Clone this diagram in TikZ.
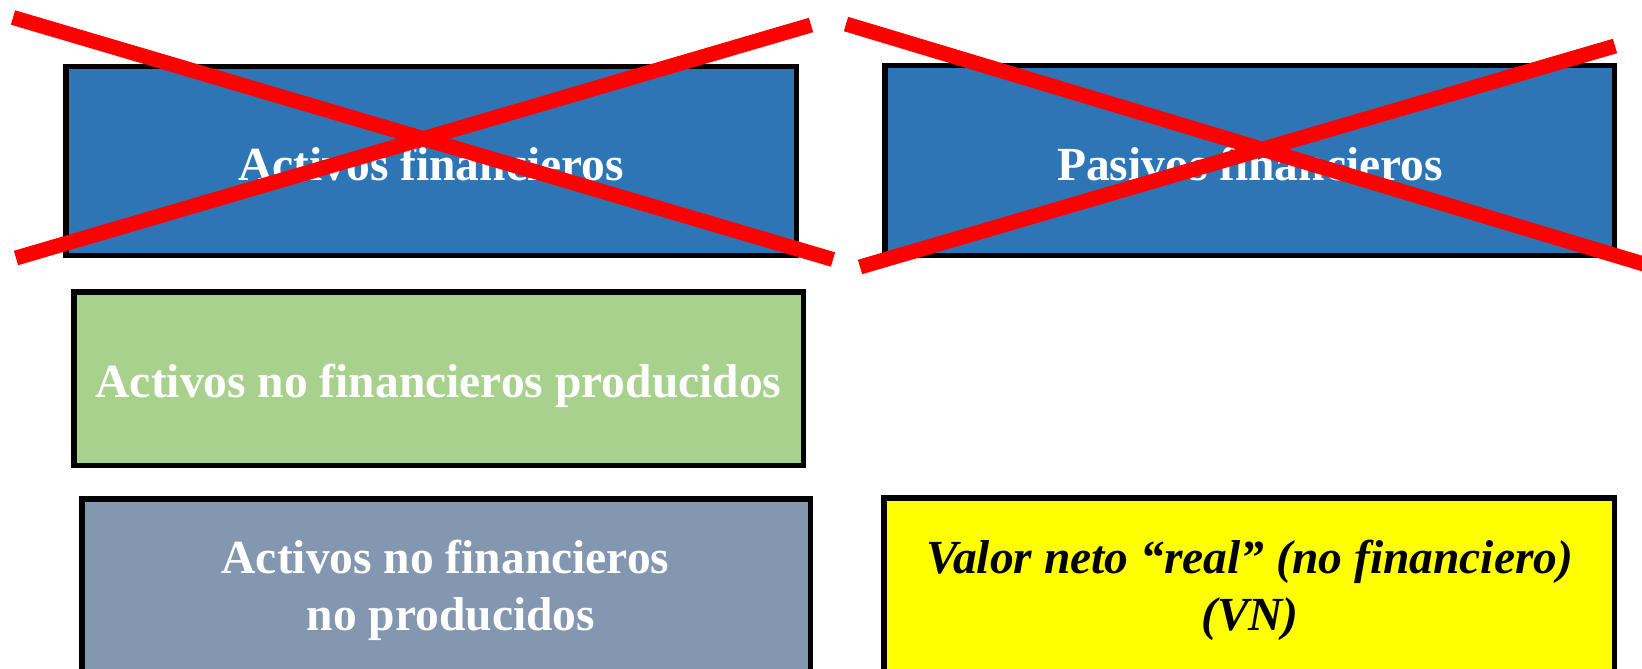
\documentclass[tikz,border=0pt]{standalone}
\usepackage{fontspec}
\setmainfont{Liberation Serif}
\usetikzlibrary{calc}
\definecolor{boxblue}{HTML}{2E75B6}
\definecolor{boxgreen}{HTML}{A9D18E}
\definecolor{boxgrey}{HTML}{8497B0}
\definecolor{boxyellow}{HTML}{FFFF00}
\definecolor{xred}{HTML}{FF0000}
\begin{document}
\begin{tikzpicture}[x=1pt,y=-1pt,
  panel/.style={draw=black, line width=5.5pt, rectangle, inner sep=0pt},
  wtxt/.style={text=white, font=\fontsize{47.5}{57}\selectfont\bfseries, inner sep=0pt, anchor=base},
  ktxt/.style={text=black, font=\fontsize{47.5}{57}\selectfont\bfseries\itshape, inner sep=0pt, anchor=base},
  cross/.style={draw=xred, line width=15pt, line cap=butt}]
\useasboundingbox (0,0) rectangle (1642,669);
\clip (0,0) rectangle (1642,669);
\fill[white] (0,0) rectangle (1642,669);
% boxes
\node[panel, fill=boxblue, minimum width=730.5pt, minimum height=188.5pt] (A) at (431,161) {};
\node[panel, fill=boxblue, minimum width=729.5pt, minimum height=189.5pt] (P) at (1249.5,160.5) {};
\node[panel, fill=boxgreen, minimum width=729.5pt, minimum height=173.5pt] (G) at (438.5,378.5) {};
\node[panel, fill=boxgrey, minimum width=728.5pt, minimum height=183.5pt] (N) at (446,590.5) {};
\node[panel, fill=boxyellow, minimum width=730.5pt, minimum height=184.5pt] (Y) at (1249,590) {};
% texts
\node[wtxt] (tA) at (431,180) {Activos financieros};
\node[wtxt] (tP) at (1250,180) {Pasivos financieros};
\node[wtxt] (tG) at (438.5,397) {Activos no financieros producidos};
\node[wtxt] (tN1) at (445.5,573) {Activos no financieros};
\node[wtxt] (tN2) at (451,630) {no producidos};
\node[ktxt] (tY1) at (1250,573) {Valor neto “real” (no financiero)};
\node[ktxt] (tY2) at (1250,630) {(VN)};
% crosses
\coordinate (a1) at (13,17.5);
\coordinate (a2) at (833,259.5);
\coordinate (a3) at (16,258);
\coordinate (a4) at (811,25);
\coordinate (p1) at (846,24);
\coordinate (p2) at (1652,266.5);
\coordinate (p3) at (860,267);
\coordinate (p4) at (1615,46);
\draw[cross] (a1) -- (a2);
\draw[cross] (a3) -- (a4);
\draw[cross] (p1) -- (p2);
\draw[cross] (p3) -- (p4);
\end{tikzpicture}
\end{document}
